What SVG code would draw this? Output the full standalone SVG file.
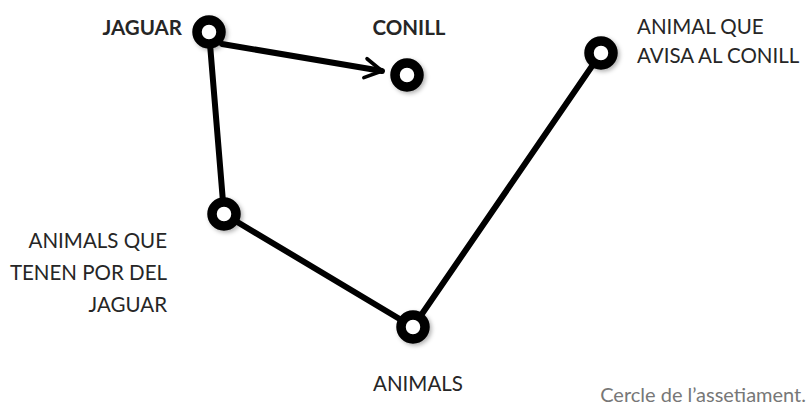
<svg xmlns="http://www.w3.org/2000/svg" width="810" height="405" viewBox="0 0 810 405">
<style>
.lbl{font-family:Lato,"Open Sans","Liberation Sans",sans-serif;font-size:20.5px;fill:#262626}
.b{font-weight:bold}
.node{fill:#fff;stroke:#000;stroke-width:9.5}
.edge{stroke:#000;stroke-width:6;fill:none;stroke-linecap:round}
.cap{font-family:Lato,"Open Sans","Liberation Sans",sans-serif;font-size:20px;fill:#777}
</style>
<defs>
<marker id="arr" viewBox="0 0 10 10" refX="8" refY="5" markerWidth="4" markerHeight="4" orient="auto" markerUnits="strokeWidth">
<path d="M1,1 L8,5 L1,9" fill="none" stroke="#000" stroke-width="1.5" stroke-linecap="round" stroke-linejoin="round"/>
</marker>
<filter id="sh" x="-50%" y="-50%" width="200%" height="200%">
<feDropShadow dx="2" dy="2" stdDeviation="2" flood-color="#000" flood-opacity="0.3"/>
</filter>
</defs>
<rect width="810" height="405" fill="#fff"/>
<g id="connectors">
<line class="edge" x1="209" y1="32" x2="224" y2="214"/>
<line class="edge" x1="224" y1="214" x2="413" y2="327"/>
<line class="edge" x1="413" y1="327" x2="601" y2="53"/>
<line class="edge" x1="222" y1="44" x2="382" y2="71" marker-end="url(#arr)"/>
</g>
<g id="jaguar">
<circle class="node" cx="209" cy="32" r="12" filter="url(#sh)"/>
<text class="lbl b" x="182" y="35" text-anchor="end">JAGUAR</text>
</g>
<g id="conill">
<circle class="node" cx="407" cy="75" r="12" filter="url(#sh)"/>
<text class="lbl b" x="409" y="35" text-anchor="middle">CONILL</text>
</g>
<g id="avisa">
<circle class="node" cx="601" cy="53" r="12" filter="url(#sh)"/>
<text class="lbl" x="637" y="34">ANIMAL QUE</text>
<text class="lbl" x="637" y="63">AVISA AL CONILL</text>
</g>
<g id="por">
<circle class="node" cx="224" cy="214" r="12" filter="url(#sh)"/>
<text class="lbl" x="167" y="248" text-anchor="end">ANIMALS QUE</text>
<text class="lbl" x="167" y="280" text-anchor="end">TENEN POR DEL</text>
<text class="lbl" x="167" y="312" text-anchor="end">JAGUAR</text>
</g>
<g id="animals">
<circle class="node" cx="413" cy="327" r="12" filter="url(#sh)"/>
<text class="lbl" x="418" y="391" text-anchor="middle">ANIMALS</text>
</g>
<text class="cap" x="806" y="402" text-anchor="end">Cercle de l’assetiament.</text>
</svg>
